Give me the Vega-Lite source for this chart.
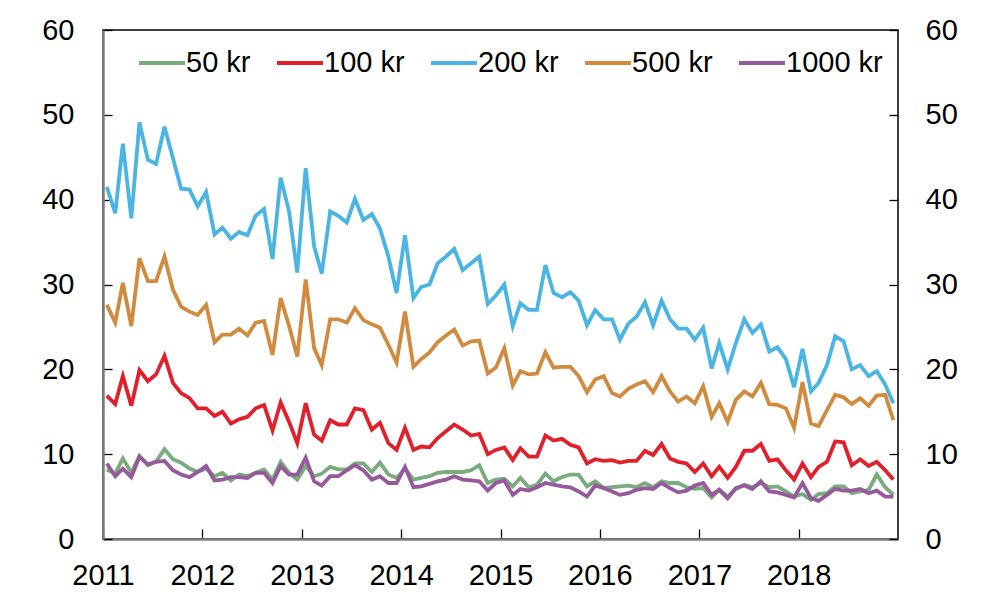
{
  "$schema": "https://vega.github.io/schema/vega-lite/v6.json",
  "width": 795,
  "height": 509,
  "autosize": {"type": "none"},
  "padding": {"left": 103, "top": 30, "right": 91, "bottom": 64},
  "background": "white",
  "config": {
    "font": "Liberation Sans",
    "view": {"stroke": "#000000", "strokeWidth": 1.5},
    "axis": {"grid": false, "labelFontSize": 29, "labelColor": "#000000", "tickColor": "#000000", "tickWidth": 1.3, "title": null, "labelFont": "Liberation Sans"},
    "legend": {"labelFont": "Liberation Sans"}
  },
  "data": {
    "values": [
      {"d": "2011-01-15", "50 kr": 8.2, "100 kr": 16.9, "200 kr": 41.5, "500 kr": 27.6, "1000 kr": 8.9},
      {"d": "2011-02-15", "50 kr": 7.7, "100 kr": 15.9, "200 kr": 38.4, "500 kr": 25.5, "1000 kr": 7.4},
      {"d": "2011-03-15", "50 kr": 9.5, "100 kr": 19.2, "200 kr": 46.6, "500 kr": 30.2, "1000 kr": 8.3},
      {"d": "2011-04-15", "50 kr": 7.8, "100 kr": 15.7, "200 kr": 37.8, "500 kr": 25.1, "1000 kr": 7.3},
      {"d": "2011-05-15", "50 kr": 9.8, "100 kr": 19.9, "200 kr": 49.1, "500 kr": 33.1, "1000 kr": 9.7},
      {"d": "2011-06-15", "50 kr": 8.7, "100 kr": 18.6, "200 kr": 44.7, "500 kr": 30.4, "1000 kr": 8.8},
      {"d": "2011-07-15", "50 kr": 9.1, "100 kr": 19.4, "200 kr": 44.2, "500 kr": 30.4, "1000 kr": 9.1},
      {"d": "2011-08-15", "50 kr": 10.6, "100 kr": 21.6, "200 kr": 48.6, "500 kr": 33.3, "1000 kr": 9.2},
      {"d": "2011-09-15", "50 kr": 9.4, "100 kr": 18.4, "200 kr": 44.9, "500 kr": 29.4, "1000 kr": 8.1},
      {"d": "2011-10-15", "50 kr": 9.0, "100 kr": 17.2, "200 kr": 41.3, "500 kr": 27.4, "1000 kr": 7.6},
      {"d": "2011-11-15", "50 kr": 8.3, "100 kr": 16.6, "200 kr": 41.2, "500 kr": 26.8, "1000 kr": 7.3},
      {"d": "2011-12-15", "50 kr": 7.9, "100 kr": 15.4, "200 kr": 39.2, "500 kr": 26.4, "1000 kr": 7.9},
      {"d": "2012-01-15", "50 kr": 8.3, "100 kr": 15.4, "200 kr": 40.9, "500 kr": 27.6, "1000 kr": 8.6},
      {"d": "2012-02-15", "50 kr": 7.4, "100 kr": 14.5, "200 kr": 35.9, "500 kr": 23.2, "1000 kr": 6.9},
      {"d": "2012-03-15", "50 kr": 7.8, "100 kr": 15.0, "200 kr": 36.7, "500 kr": 24.1, "1000 kr": 7.0},
      {"d": "2012-04-15", "50 kr": 6.9, "100 kr": 13.6, "200 kr": 35.4, "500 kr": 24.1, "1000 kr": 7.3},
      {"d": "2012-05-15", "50 kr": 7.6, "100 kr": 14.1, "200 kr": 36.2, "500 kr": 24.8, "1000 kr": 7.3},
      {"d": "2012-06-15", "50 kr": 7.4, "100 kr": 14.4, "200 kr": 35.8, "500 kr": 24.0, "1000 kr": 7.2},
      {"d": "2012-07-15", "50 kr": 7.8, "100 kr": 15.4, "200 kr": 38.1, "500 kr": 25.5, "1000 kr": 7.8},
      {"d": "2012-08-15", "50 kr": 8.2, "100 kr": 15.8, "200 kr": 38.9, "500 kr": 25.7, "1000 kr": 7.8},
      {"d": "2012-09-15", "50 kr": 7.0, "100 kr": 12.8, "200 kr": 33.0, "500 kr": 21.7, "1000 kr": 6.6},
      {"d": "2012-10-15", "50 kr": 9.1, "100 kr": 16.1, "200 kr": 42.6, "500 kr": 28.4, "1000 kr": 8.6},
      {"d": "2012-11-15", "50 kr": 7.8, "100 kr": 13.8, "200 kr": 38.6, "500 kr": 25.1, "1000 kr": 7.6},
      {"d": "2012-12-15", "50 kr": 7.0, "100 kr": 11.3, "200 kr": 31.4, "500 kr": 21.5, "1000 kr": 7.6},
      {"d": "2013-01-15", "50 kr": 8.6, "100 kr": 16.0, "200 kr": 43.7, "500 kr": 30.6, "1000 kr": 9.6},
      {"d": "2013-02-15", "50 kr": 7.4, "100 kr": 12.3, "200 kr": 34.5, "500 kr": 22.5, "1000 kr": 6.8},
      {"d": "2013-03-15", "50 kr": 7.7, "100 kr": 11.6, "200 kr": 31.3, "500 kr": 20.5, "1000 kr": 6.3},
      {"d": "2013-04-15", "50 kr": 8.5, "100 kr": 14.0, "200 kr": 38.6, "500 kr": 25.9, "1000 kr": 7.4},
      {"d": "2013-05-15", "50 kr": 8.2, "100 kr": 13.5, "200 kr": 38.1, "500 kr": 25.9, "1000 kr": 7.4},
      {"d": "2013-06-15", "50 kr": 8.2, "100 kr": 13.5, "200 kr": 37.3, "500 kr": 25.5, "1000 kr": 8.1},
      {"d": "2013-07-15", "50 kr": 8.9, "100 kr": 15.4, "200 kr": 40.1, "500 kr": 27.2, "1000 kr": 8.7},
      {"d": "2013-08-15", "50 kr": 8.9, "100 kr": 15.2, "200 kr": 37.6, "500 kr": 25.8, "1000 kr": 8.1},
      {"d": "2013-09-15", "50 kr": 7.9, "100 kr": 12.9, "200 kr": 38.3, "500 kr": 25.3, "1000 kr": 7.0},
      {"d": "2013-10-15", "50 kr": 9.0, "100 kr": 13.7, "200 kr": 36.6, "500 kr": 24.9, "1000 kr": 7.4},
      {"d": "2013-11-15", "50 kr": 7.6, "100 kr": 11.3, "200 kr": 33.3, "500 kr": 22.9, "1000 kr": 6.6},
      {"d": "2013-12-15", "50 kr": 7.2, "100 kr": 10.5, "200 kr": 29.0, "500 kr": 20.8, "1000 kr": 6.6},
      {"d": "2014-01-15", "50 kr": 8.3, "100 kr": 13.1, "200 kr": 35.8, "500 kr": 26.8, "1000 kr": 8.5},
      {"d": "2014-02-15", "50 kr": 7.0, "100 kr": 10.5, "200 kr": 28.4, "500 kr": 20.3, "1000 kr": 6.1},
      {"d": "2014-03-15", "50 kr": 7.2, "100 kr": 10.9, "200 kr": 29.7, "500 kr": 21.2, "1000 kr": 6.2},
      {"d": "2014-04-15", "50 kr": 7.4, "100 kr": 10.8, "200 kr": 30.0, "500 kr": 22.0, "1000 kr": 6.5},
      {"d": "2014-05-15", "50 kr": 7.8, "100 kr": 11.9, "200 kr": 32.5, "500 kr": 23.2, "1000 kr": 6.8},
      {"d": "2014-06-15", "50 kr": 7.9, "100 kr": 12.7, "200 kr": 33.3, "500 kr": 24.0, "1000 kr": 7.0},
      {"d": "2014-07-15", "50 kr": 7.9, "100 kr": 13.5, "200 kr": 34.2, "500 kr": 24.7, "1000 kr": 7.4},
      {"d": "2014-08-15", "50 kr": 7.9, "100 kr": 12.9, "200 kr": 31.7, "500 kr": 22.8, "1000 kr": 7.0},
      {"d": "2014-09-15", "50 kr": 8.1, "100 kr": 12.2, "200 kr": 32.5, "500 kr": 23.3, "1000 kr": 6.9},
      {"d": "2014-10-15", "50 kr": 8.7, "100 kr": 12.4, "200 kr": 33.3, "500 kr": 23.4, "1000 kr": 6.8},
      {"d": "2014-11-15", "50 kr": 6.6, "100 kr": 10.0, "200 kr": 27.7, "500 kr": 19.5, "1000 kr": 5.7},
      {"d": "2014-12-15", "50 kr": 7.0, "100 kr": 10.5, "200 kr": 28.7, "500 kr": 20.2, "1000 kr": 6.6},
      {"d": "2015-01-15", "50 kr": 7.1, "100 kr": 10.8, "200 kr": 30.0, "500 kr": 22.5, "1000 kr": 6.9},
      {"d": "2015-02-15", "50 kr": 6.2, "100 kr": 9.3, "200 kr": 25.1, "500 kr": 18.1, "1000 kr": 5.2},
      {"d": "2015-03-15", "50 kr": 7.2, "100 kr": 10.7, "200 kr": 27.8, "500 kr": 19.8, "1000 kr": 5.9},
      {"d": "2015-04-15", "50 kr": 6.1, "100 kr": 9.7, "200 kr": 27.0, "500 kr": 19.4, "1000 kr": 5.7},
      {"d": "2015-05-15", "50 kr": 6.4, "100 kr": 9.7, "200 kr": 27.0, "500 kr": 19.5, "1000 kr": 6.1},
      {"d": "2015-06-15", "50 kr": 7.7, "100 kr": 12.2, "200 kr": 32.3, "500 kr": 22.0, "1000 kr": 6.6},
      {"d": "2015-07-15", "50 kr": 6.8, "100 kr": 11.6, "200 kr": 29.0, "500 kr": 20.2, "1000 kr": 6.4},
      {"d": "2015-08-15", "50 kr": 7.3, "100 kr": 11.8, "200 kr": 28.5, "500 kr": 20.3, "1000 kr": 6.2},
      {"d": "2015-09-15", "50 kr": 7.6, "100 kr": 11.1, "200 kr": 29.1, "500 kr": 20.3, "1000 kr": 6.1},
      {"d": "2015-10-15", "50 kr": 7.6, "100 kr": 10.8, "200 kr": 28.1, "500 kr": 19.2, "1000 kr": 5.6},
      {"d": "2015-11-15", "50 kr": 6.2, "100 kr": 8.9, "200 kr": 25.2, "500 kr": 17.3, "1000 kr": 5.0},
      {"d": "2015-12-15", "50 kr": 6.8, "100 kr": 9.4, "200 kr": 27.0, "500 kr": 18.8, "1000 kr": 6.3},
      {"d": "2016-01-15", "50 kr": 6.0, "100 kr": 9.2, "200 kr": 25.9, "500 kr": 19.2, "1000 kr": 6.0},
      {"d": "2016-02-15", "50 kr": 6.1, "100 kr": 9.3, "200 kr": 25.9, "500 kr": 17.2, "1000 kr": 5.6},
      {"d": "2016-03-15", "50 kr": 6.2, "100 kr": 9.0, "200 kr": 23.5, "500 kr": 16.8, "1000 kr": 5.2},
      {"d": "2016-04-15", "50 kr": 6.3, "100 kr": 9.2, "200 kr": 25.4, "500 kr": 17.7, "1000 kr": 5.4},
      {"d": "2016-05-15", "50 kr": 6.1, "100 kr": 9.2, "200 kr": 26.2, "500 kr": 18.2, "1000 kr": 5.8},
      {"d": "2016-06-15", "50 kr": 6.6, "100 kr": 10.4, "200 kr": 27.9, "500 kr": 18.6, "1000 kr": 6.0},
      {"d": "2016-07-15", "50 kr": 6.1, "100 kr": 9.9, "200 kr": 25.2, "500 kr": 17.3, "1000 kr": 5.9},
      {"d": "2016-08-15", "50 kr": 6.8, "100 kr": 11.2, "200 kr": 28.1, "500 kr": 19.2, "1000 kr": 6.6},
      {"d": "2016-09-15", "50 kr": 6.6, "100 kr": 9.5, "200 kr": 25.9, "500 kr": 17.4, "1000 kr": 6.0},
      {"d": "2016-10-15", "50 kr": 6.6, "100 kr": 9.1, "200 kr": 24.8, "500 kr": 16.2, "1000 kr": 5.5},
      {"d": "2016-11-15", "50 kr": 6.1, "100 kr": 8.9, "200 kr": 24.8, "500 kr": 16.8, "1000 kr": 5.7},
      {"d": "2016-12-15", "50 kr": 5.9, "100 kr": 7.9, "200 kr": 23.5, "500 kr": 16.0, "1000 kr": 6.3},
      {"d": "2017-01-15", "50 kr": 6.0, "100 kr": 8.9, "200 kr": 24.9, "500 kr": 18.0, "1000 kr": 6.6},
      {"d": "2017-02-15", "50 kr": 4.9, "100 kr": 7.4, "200 kr": 20.1, "500 kr": 14.4, "1000 kr": 5.2},
      {"d": "2017-03-15", "50 kr": 5.8, "100 kr": 8.5, "200 kr": 23.1, "500 kr": 16.0, "1000 kr": 5.8},
      {"d": "2017-04-15", "50 kr": 5.0, "100 kr": 7.2, "200 kr": 20.0, "500 kr": 13.8, "1000 kr": 4.8},
      {"d": "2017-05-15", "50 kr": 5.9, "100 kr": 8.5, "200 kr": 23.1, "500 kr": 16.4, "1000 kr": 6.0},
      {"d": "2017-06-15", "50 kr": 6.4, "100 kr": 10.4, "200 kr": 25.9, "500 kr": 17.4, "1000 kr": 6.3},
      {"d": "2017-07-15", "50 kr": 6.1, "100 kr": 10.4, "200 kr": 24.3, "500 kr": 16.8, "1000 kr": 5.9},
      {"d": "2017-08-15", "50 kr": 6.6, "100 kr": 11.2, "200 kr": 25.3, "500 kr": 18.4, "1000 kr": 6.8},
      {"d": "2017-09-15", "50 kr": 6.1, "100 kr": 9.2, "200 kr": 22.1, "500 kr": 15.9, "1000 kr": 5.6},
      {"d": "2017-10-15", "50 kr": 6.2, "100 kr": 9.4, "200 kr": 22.6, "500 kr": 15.8, "1000 kr": 5.5},
      {"d": "2017-11-15", "50 kr": 5.6, "100 kr": 8.1, "200 kr": 21.2, "500 kr": 15.4, "1000 kr": 5.2},
      {"d": "2017-12-15", "50 kr": 5.0, "100 kr": 7.0, "200 kr": 17.9, "500 kr": 13.1, "1000 kr": 4.9},
      {"d": "2018-01-15", "50 kr": 5.3, "100 kr": 8.9, "200 kr": 22.4, "500 kr": 18.5, "1000 kr": 6.6},
      {"d": "2018-02-15", "50 kr": 4.6, "100 kr": 7.3, "200 kr": 17.4, "500 kr": 13.6, "1000 kr": 4.8},
      {"d": "2018-03-15", "50 kr": 5.3, "100 kr": 8.5, "200 kr": 18.4, "500 kr": 13.3, "1000 kr": 4.5},
      {"d": "2018-04-15", "50 kr": 5.4, "100 kr": 9.1, "200 kr": 20.5, "500 kr": 15.2, "1000 kr": 5.2},
      {"d": "2018-05-15", "50 kr": 6.2, "100 kr": 11.5, "200 kr": 23.9, "500 kr": 17.0, "1000 kr": 5.9},
      {"d": "2018-06-15", "50 kr": 6.2, "100 kr": 11.4, "200 kr": 23.3, "500 kr": 16.7, "1000 kr": 5.7},
      {"d": "2018-07-15", "50 kr": 5.4, "100 kr": 8.7, "200 kr": 20.0, "500 kr": 15.9, "1000 kr": 5.7},
      {"d": "2018-08-15", "50 kr": 5.6, "100 kr": 9.4, "200 kr": 20.5, "500 kr": 16.6, "1000 kr": 5.9},
      {"d": "2018-09-15", "50 kr": 5.8, "100 kr": 8.6, "200 kr": 19.2, "500 kr": 15.7, "1000 kr": 5.4},
      {"d": "2018-10-15", "50 kr": 7.6, "100 kr": 9.1, "200 kr": 19.8, "500 kr": 16.9, "1000 kr": 5.7},
      {"d": "2018-11-15", "50 kr": 6.1, "100 kr": 8.1, "200 kr": 18.2, "500 kr": 17.0, "1000 kr": 5.0},
      {"d": "2018-12-15", "50 kr": 5.2, "100 kr": 7.0, "200 kr": 16.0, "500 kr": 14.0, "1000 kr": 5.0}
    ]
  },
  "transform": [
    {"fold": ["50 kr", "100 kr", "200 kr", "500 kr", "1000 kr"], "as": ["serie", "verdi"]}
  ],
  "encoding": {
    "x": {
      "field": "d",
      "type": "temporal",
      "scale": {
        "type": "utc",
        "domain": [
          {"year": 2011, "month": 1, "date": 1, "utc": true},
          {"year": 2019, "month": 1, "date": 1, "utc": true}
        ]
      },
      "axis": {
        "values": [
          {"year": 2011, "month": 1, "date": 1, "utc": true},
          {"year": 2012, "month": 1, "date": 1, "utc": true},
          {"year": 2013, "month": 1, "date": 1, "utc": true},
          {"year": 2014, "month": 1, "date": 1, "utc": true},
          {"year": 2015, "month": 1, "date": 1, "utc": true},
          {"year": 2016, "month": 1, "date": 1, "utc": true},
          {"year": 2017, "month": 1, "date": 1, "utc": true},
          {"year": 2018, "month": 1, "date": 1, "utc": true}
        ],
        "format": "%Y",
        "formatType": "utc",
        "tickSize": -10,
        "labelPadding": 32,
        "domainColor": "#7f7f7f",
        "domainWidth": 2.5,
        "labelFlush": false,
        "labelOverlap": false
      }
    }
  },
  "layer": [
    {
      "mark": {"type": "line", "strokeWidth": 3.8, "interpolate": "linear"},
      "encoding": {
        "y": {
          "field": "verdi",
          "type": "quantitative",
          "scale": {"domain": [0, 60], "nice": false, "zero": true},
          "axis": {
            "orient": "left",
            "values": [0, 10, 20, 30, 40, 50, 60],
            "tickSize": -9,
            "labelPadding": 38,
            "domainColor": "#7f7f7f",
            "domainWidth": 2.5
          }
        },
        "color": {
          "field": "serie",
          "type": "nominal",
          "scale": {
            "domain": ["50 kr", "100 kr", "200 kr", "500 kr", "1000 kr"],
            "range": ["#7aab7d", "#e2202c", "#4ab4e2", "#d08b3e", "#96599c"]
          },
          "legend": {
            "title": null,
            "orient": "none",
            "legendX": 34,
            "legendY": 8,
            "direction": "horizontal",
            "symbolType": "stroke",
            "symbolSize": 2116,
            "symbolStrokeWidth": 3.8,
            "labelFontSize": 29,
            "labelColor": "#000000",
            "labelOffset": -1,
            "columnPadding": 18,
            "padding": 0
          }
        }
      }
    },
    {
      "mark": {"type": "line", "strokeOpacity": 0},
      "encoding": {
        "detail": {"field": "serie"},
        "y": {
          "field": "verdi",
          "type": "quantitative",
          "axis": {
            "orient": "right",
            "values": [0, 10, 20, 30, 40, 50, 60],
            "tickSize": -9,
            "labelPadding": 36,
            "domain": false
          }
        }
      }
    }
  ],
  "resolve": {"axis": {"y": "independent"}}
}
